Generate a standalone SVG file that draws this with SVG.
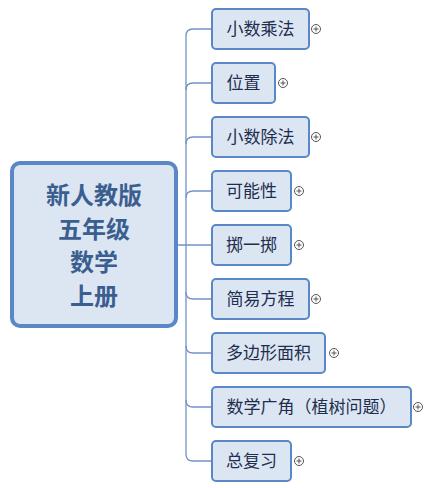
<svg xmlns="http://www.w3.org/2000/svg" width="432" height="488" viewBox="0 0 432 488">
<defs>
<style>
.bg{fill:#ffffff}
.root rect{fill:#dce6f2;stroke:#5a87c6;stroke-width:4}
.root text{font-family:"Noto Sans CJK SC","Noto Sans CJK JP",sans-serif;font-size:24px;font-weight:bold;fill:#3b5e90;text-anchor:middle}
.node rect{fill:#dce6f2;stroke:#5a87c6;stroke-width:2}
.node text{font-family:"Noto Sans CJK SC","Noto Sans CJK JP",sans-serif;font-size:17px;fill:#1f2e4f;text-anchor:middle}
.conn path{fill:none;stroke:#7393c6;stroke-width:1.3}
.plus circle{fill:#ffffff;stroke:#555555;stroke-width:1}
.plus path{stroke:#555555;stroke-width:1;fill:none}
</style>
<g id="plusicon" class="plus"><circle cx="0" cy="0" r="4.5"/><path d="M-2.5 0H2.5M0 -2.5V2.5"/></g>
</defs>
<rect class="bg" x="0" y="0" width="432" height="488"/>
<g id="connectors" class="conn">
<path d="M177 245H212"/>
<path d="M186 36V454"/>
<path d="M186 36Q186 29 193 29H212"/>
<path d="M186 90Q186 83 193 83H212"/>
<path d="M186 144Q186 137 193 137H212"/>
<path d="M186 198Q186 191 193 191H212"/>
<path d="M186 292Q186 299 193 299H212"/>
<path d="M186 346Q186 353 193 353H212"/>
<path d="M186 400Q186 407 193 407H212"/>
<path d="M186 454Q186 461 193 461H212"/>
</g>
<g id="root" class="root">
<rect x="12" y="163" width="164" height="163" rx="8"/>
<text x="94" y="204">新人教版</text>
<text x="94" y="238">五年级</text>
<text x="94" y="271">数学</text>
<text x="94" y="305">上册</text>
</g>
<g id="n1" class="node"><rect x="212" y="9" width="97" height="40" rx="4"/><text x="260.5" y="35">小数乘法</text><use href="#plusicon" x="316" y="29"/></g>
<g id="n2" class="node"><rect x="212" y="63" width="63" height="40" rx="4"/><text x="243.5" y="89">位置</text><use href="#plusicon" x="283" y="83"/></g>
<g id="n3" class="node"><rect x="212" y="117" width="97" height="40" rx="4"/><text x="260.5" y="143">小数除法</text><use href="#plusicon" x="316" y="137"/></g>
<g id="n4" class="node"><rect x="212" y="171" width="79" height="40" rx="4"/><text x="251.5" y="197">可能性</text><use href="#plusicon" x="299" y="191"/></g>
<g id="n5" class="node"><rect x="212" y="225" width="79" height="40" rx="4"/><text x="251.5" y="251">掷一掷</text><use href="#plusicon" x="299" y="245"/></g>
<g id="n6" class="node"><rect x="212" y="279" width="97" height="40" rx="4"/><text x="260.5" y="305">简易方程</text><use href="#plusicon" x="316" y="299"/></g>
<g id="n7" class="node"><rect x="212" y="333" width="113" height="40" rx="4"/><text x="268.5" y="359">多边形面积</text><use href="#plusicon" x="334" y="353"/></g>
<g id="n8" class="node"><rect x="212" y="387" width="199" height="40" rx="4"/><text x="311.5" y="413">数学广角（植树问题）</text><use href="#plusicon" x="418" y="407"/></g>
<g id="n9" class="node"><rect x="212" y="441" width="79" height="40" rx="4"/><text x="251.5" y="467">总复习</text><use href="#plusicon" x="299" y="461"/></g>
</svg>
